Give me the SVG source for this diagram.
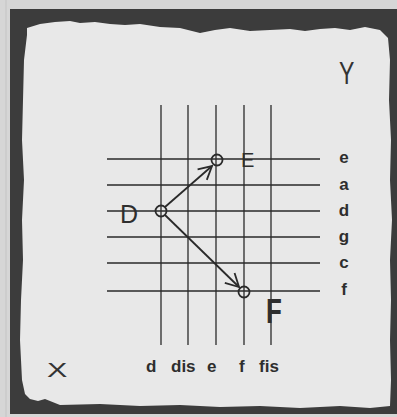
<svg xmlns="http://www.w3.org/2000/svg" width="397" height="417" viewBox="0 0 397 417">
<style>
.grid line{stroke:#2a2a2a;stroke-width:1.3}
.node circle{fill:none;stroke:#2a2a2a;stroke-width:1.8}
.conn line{stroke:#2a2a2a;stroke-width:1.8}
.lbl{font-family:"Liberation Sans",Arial,sans-serif;font-weight:bold;font-size:17px;fill:#2e2e2e}
.nl{font-family:"Liberation Sans",Arial,sans-serif;fill:#2e2e2e}
.ax{font-family:"Liberation Sans",Arial,sans-serif;fill:#333}
</style>
<defs>
<marker id="arr" markerUnits="userSpaceOnUse" markerWidth="20" markerHeight="20" viewBox="-16 -10 20 20" refX="0" refY="0" orient="auto">
<path d="M-13,-7 L0,0 L-13,7" fill="none" stroke="#2a2a2a" stroke-width="1.8"/>
</marker>
</defs>
<rect x="0" y="0" width="397" height="417" fill="#d6d6d6"/>
<line x1="6" y1="0" x2="6" y2="417" stroke="#c4c4c4" stroke-width="1"/>
<rect x="10" y="9" width="387" height="405" fill="#3c3c3c"/>
<path d="M27,28 L40,24 55,22 70,21 80,23 95,22 110,24 125,25 140,24 160,27 180,28 200,33 215,30 230,28 250,31 270,30 290,29 305,31 320,29 335,28 350,30 365,27 380,30 388,38 390,60 389,100 391,140 390,180 392,220 390,260 391,300 390,340 391,380 390,406 370,408 340,406 300,408 260,406 220,407 180,405 140,406 100,404 60,405 45,399 38,401 30,399 25,394 22,380 20,340 21,300 23,260 22,220 24,180 22,140 23,100 24,60 27,35 Z" fill="#e8e8e8"/>
<g class="grid">
<line x1="161" y1="105" x2="161" y2="345"/>
<line x1="188" y1="105" x2="188" y2="345"/>
<line x1="216" y1="105" x2="216" y2="345"/>
<line x1="244" y1="105" x2="244" y2="345"/>
<line x1="271" y1="105" x2="271" y2="345"/>
<line x1="107" y1="159" x2="320" y2="159"/>
<line x1="107" y1="185" x2="320" y2="185"/>
<line x1="107" y1="211" x2="320" y2="211"/>
<line x1="107" y1="237" x2="320" y2="237"/>
<line x1="107" y1="263" x2="320" y2="263"/>
<line x1="107" y1="291" x2="320" y2="291"/>
</g>
<g id="connectors" class="conn">
<line x1="165" y1="207" x2="212" y2="166" marker-end="url(#arr)"/>
<line x1="165" y1="215" x2="239" y2="287" marker-end="url(#arr)"/>
</g>
<g id="node-D" class="node">
<circle cx="161" cy="211" r="5.5"/>
<text class="nl" x="129" y="223" style="font-size:25px" text-anchor="middle">D</text>
</g>
<g id="node-E" class="node">
<circle cx="217" cy="160" r="5.5"/>
<text class="nl" x="241" y="167" style="font-size:20px">E</text>
</g>
<g id="node-F" class="node">
<circle cx="244" cy="292" r="5.5"/>
<text class="nl" x="266" y="323" style="font-size:36px;font-weight:bold" transform="translate(266 0) scale(0.72 1) translate(-266 0)">F</text>
</g>
<g id="y-labels" class="lbl" text-anchor="middle">
<text x="344" y="163">e</text>
<text x="344" y="190">a</text>
<text x="344" y="216">d</text>
<text x="344" y="242">g</text>
<text x="344" y="268">c</text>
<text x="344" y="295">f</text>
</g>
<g id="x-labels" class="lbl">
<text x="146" y="372">d</text>
<text x="171" y="372">dis</text>
<text x="207" y="372">e</text>
<text x="239" y="372">f</text>
<text x="259" y="372">fis</text>
</g>
<text class="ax" x="47" y="377" style="font-size:21px" transform="translate(47 0) scale(1.45 1) translate(-47 0)">X</text>
<text class="ax" x="339" y="84" style="font-size:32px" transform="translate(339 0) scale(0.72 1) translate(-339 0)">Y</text>
</svg>
